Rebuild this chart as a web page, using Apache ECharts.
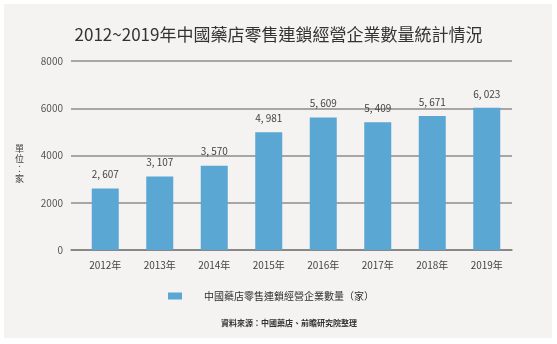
<!DOCTYPE html>
<html>
<head>
<meta charset="utf-8">
<script src="https://cdn.jsdelivr.net/npm/echarts@6/dist/echarts.min.js"></script>
<style>
  html, body { margin: 0; padding: 0; background: #ffffff; }
  #chart { width: 557px; height: 344px; }
</style>
</head>
<body>
<div id="chart"></div>
<script>
// Chain drugstore enterprise counts in China, 2012-2019
const categories = ['2012年', '2013年', '2014年', '2015年', '2016年', '2017年', '2018年', '2019年'];
const storeCounts = [2607, 3107, 3570, 4981, 5609, 5409, 5671, 6023];
const yTicks = [0, 2000, 4000, 6000, 8000];

const titleText = '2012~2019年中國藥店零售連鎖經營企業數量統計情況';
const seriesName = '中國藥店零售連鎖經營企業數量（家）';
const unitText = '單位：家';
const sourceText = '資料來源：中國藥店、前瞻研究院整理';

const FONT = '"Noto Sans CJK TC", "Noto Sans CJK SC", sans-serif';

function withComma(v) {
  return String(v).replace(/\B(?=(\d{3})+(?!\d))/g, ', ');
}

const yRange = {
  type: 'value',
  min: yTicks[0],
  max: yTicks[yTicks.length - 1],
  interval: yTicks[1] - yTicks[0]
};

const chart = echarts.init(document.getElementById('chart'), null, { renderer: 'canvas' });

chart.setOption({
  animation: false,
  backgroundColor: '#ffffff',
  textStyle: { fontFamily: FONT },
  title: {
    text: titleText,
    left: 'center',
    top: 21,
    textStyle: { fontFamily: FONT, fontSize: 17, fontWeight: 'normal', color: '#333333' }
  },
  legend: {
    left: 163,
    top: 286,
    itemWidth: 14,
    itemHeight: 7,
    icon: 'rect',
    data: [seriesName],
    textStyle: { fontFamily: FONT, fontSize: 10, color: '#2e2e2e', padding: [0, 0, 0, 17] }
  },
  // grid 0: frame with gridlines and baseline; grid 1: the bars and category labels
  grid: [
    { left: 71, right: 45, top: 61, bottom: 94 },
    { left: 78, right: 43, top: 61, bottom: 94 }
  ],
  xAxis: [
    {
      gridIndex: 0,
      type: 'category',
      data: categories,
      axisLine: { lineStyle: { color: '#7f7f7f', width: 1.5 } },
      axisTick: { show: false },
      axisLabel: { show: false }
    },
    {
      gridIndex: 1,
      type: 'category',
      data: categories,
      axisLine: { show: false },
      axisTick: { show: false },
      axisLabel: { fontFamily: FONT, fontSize: 10, color: '#444444', margin: 10 }
    }
  ],
  yAxis: [
    Object.assign({}, yRange, {
      gridIndex: 0,
      axisLine: { show: false },
      axisTick: { show: false },
      axisLabel: { fontFamily: FONT, fontSize: 10, color: '#555555', margin: 8, formatter: v => String(v) },
      splitLine: { lineStyle: { color: '#8c8c8c', width: 1.5 } }
    }),
    Object.assign({}, yRange, {
      gridIndex: 1,
      show: false,
      splitLine: { show: false }
    })
  ],
  series: [{
    name: seriesName,
    type: 'bar',
    xAxisIndex: 1,
    yAxisIndex: 1,
    data: storeCounts,
    barWidth: 27,
    itemStyle: { color: '#5aa7d3' },
    label: {
      show: true,
      position: 'top',
      distance: 9,
      fontFamily: FONT,
      fontSize: 10,
      color: '#444444',
      formatter: p => withComma(p.value)
    }
  }],
  graphic: [
    {
      type: 'rect',
      silent: true,
      z: -10,
      shape: { x: 4, y: 4, width: 548, height: 334 },
      style: { fill: '#f4f3f2' }
    },
    {
      // vertical unit caption beside the value axis
      type: 'text',
      left: 15,
      top: 144,
      style: {
        text: unitText.split('').join('\n'),
        font: '9px ' + FONT,
        fill: '#444444',
        lineHeight: 10
      }
    },
    {
      type: 'text',
      left: 221,
      top: 319,
      style: {
        text: sourceText,
        font: 'bold 8px ' + FONT,
        fill: '#333333'
      }
    }
  ]
});
</script>
</body>
</html>
